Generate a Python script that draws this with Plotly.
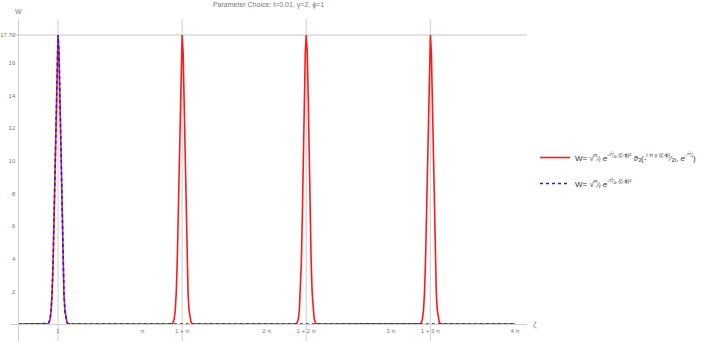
import numpy as np
import plotly.graph_objects as go

pi = np.pi

# Data
peak_centers = [1, 1 + pi, 1 + 2 * pi, 1 + 3 * pi]
profile_offsets = [-0.3, -0.25, -0.225, -0.2, -0.175, -0.15, -0.125, -0.1, -0.075, -0.05, -0.025,
                   0.0, 0.025, 0.05, 0.075, 0.1, 0.125, 0.15, 0.175, 0.2, 0.225, 0.25, 0.3]
profile_heights = [0.0, 0.03, 0.11, 0.32, 0.83, 1.87, 3.71, 6.52, 10.10, 13.80, 16.65,
                   17.72, 16.65, 13.80, 10.10, 6.52, 3.71, 1.87, 0.83, 0.32, 0.11, 0.03, 0.0]
x_start, x_end = 0.0, 4 * pi

x_tick_vals = [1, pi, 1 + pi, 2 * pi, 1 + 2 * pi, 3 * pi, 1 + 3 * pi, 4 * pi]
x_tick_text = ["1", "π", "1 + π", "2 π", "1 + 2 π", "3 π", "1 + 3 π", "4 π"]
y_tick_vals = [2, 4, 6, 8, 10, 12, 14, 16, 17.72]
y_tick_text = ["2", "4", "6", "8", "10", "12", "14", "16", "17.72"]
grid_x = [1, 1 + pi, 1 + 2 * pi, 1 + 3 * pi]
grid_y = [17.72]

red_x = [x_start]
red_y = [0.0]
for c in peak_centers:
    red_x += [c + o for o in profile_offsets]
    red_y += list(profile_heights)
red_x.append(x_end)
red_y.append(0.0)

blue_x = [x_start] + [peak_centers[0] + o for o in profile_offsets] + [x_end]
blue_y = [0.0] + list(profile_heights) + [0.0]

label1 = ("W= √<sup>π</sup>⁄<sub><i>t</i></sub> "
          "<i>e</i><sup>-<sup>γ²</sup>⁄<sub>4<i>t</i></sub> (ζ-ϕ)²</sup> "
          "ϑ<sub>3</sub>(-<sup><i>i</i> π γ (ζ-ϕ)</sup>⁄<sub>2<i>t</i></sub>, "
          "<i>e</i><sup>-<sup>π²</sup>⁄<sub><i>t</i></sub></sup>)")
label2 = ("W= √<sup>π</sup>⁄<sub><i>t</i></sub> "
          "<i>e</i><sup>-<sup>γ²</sup>⁄<sub>4<i>t</i></sub> (ζ-ϕ)²</sup>")

fig = go.Figure()
fig.add_trace(go.Scatter(x=red_x, y=red_y, mode="lines", name=label1, legendgroup="a",
                         line=dict(color="#ff1a1a", width=1.6)))
fig.add_trace(go.Scatter(x=blue_x, y=blue_y, mode="lines", name=label2, legendgroup="b",
                         line=dict(color="#1a1aff", width=1.6, dash="dot")))

W, H = 706, 341
L, R, T, B = 10, 179, 19, 0
pw = W - L - R
ph = H - T - B
xr = [-0.215, 12.87]
yr = [-1.04, 18.7]
x0_paper = (0 - xr[0]) / (xr[1] - xr[0])
y0_paper = (0 - yr[0]) / (yr[1] - yr[0])

shapes = []
for gx in grid_x:
    shapes.append(dict(type="line", xref="x", yref="paper", x0=gx, x1=gx, y0=0, y1=1,
                       line=dict(color="#d9d9d9", width=1.3), layer="below"))
for gy in grid_y:
    shapes.append(dict(type="line", xref="paper", yref="y", x0=0, x1=1, y0=gy, y1=gy,
                       line=dict(color="#d9d9d9", width=1.3), layer="below"))

gray = "#7a7a7a"
fig.update_layout(
    width=W, height=H,
    margin=dict(l=L, r=R, t=T, b=B, autoexpand=False),
    paper_bgcolor="white", plot_bgcolor="white",
    font=dict(family="Liberation Sans, Arial, sans-serif", size=8, color=gray),
    title=dict(text="Parameter Choice: t=0.01, γ=2, ϕ=1", x=(L + pw / 2) / W, xanchor="center",
               y=1 - 5 / H, yanchor="middle", yref="container",
               font=dict(size=7, color=gray)),
    xaxis=dict(range=xr, anchor="free", position=y0_paper, showgrid=False, zeroline=False,
               automargin=False,
               showline=True, linecolor="#d0d0d0", linewidth=1,
               tickmode="array", tickvals=x_tick_vals, ticktext=x_tick_text,
               ticks="", ticklabelstandoff=1,
               tickfont=dict(size=6, color=gray)),
    yaxis=dict(range=yr, anchor="free", position=x0_paper, showgrid=False, zeroline=False,
               automargin=False,
               showline=True, linecolor="#d0d0d0", linewidth=1,
               tickmode="array", tickvals=y_tick_vals, ticktext=y_tick_text,
               ticks="", ticklabelstandoff=2,
               tickfont=dict(size=6, color=gray)),
    shapes=shapes,
    showlegend=True,
    legend=dict(x=(535 - L) / pw, y=(H - 143) / ph, xanchor="left", yanchor="top",
                bgcolor="rgba(0,0,0,0)",
                font=dict(size=8, color="#333"), itemwidth=30, tracegroupgap=7),
    annotations=[
        dict(text="W", xref="x", x=0, yref="paper", y=1 + 7 / ph, xanchor="center",
             yanchor="middle", showarrow=False, font=dict(size=7, color=gray)),
        dict(text="ζ", xref="paper", x=(535 - L) / pw, yref="y", y=0, xanchor="center",
             yanchor="middle", showarrow=False, font=dict(size=8, color=gray)),
    ],
)

fig.write_html("out.html", config={"displayModeBar": False},
               post_script="document.body.style.margin='0';document.body.style.overflow='hidden';")
